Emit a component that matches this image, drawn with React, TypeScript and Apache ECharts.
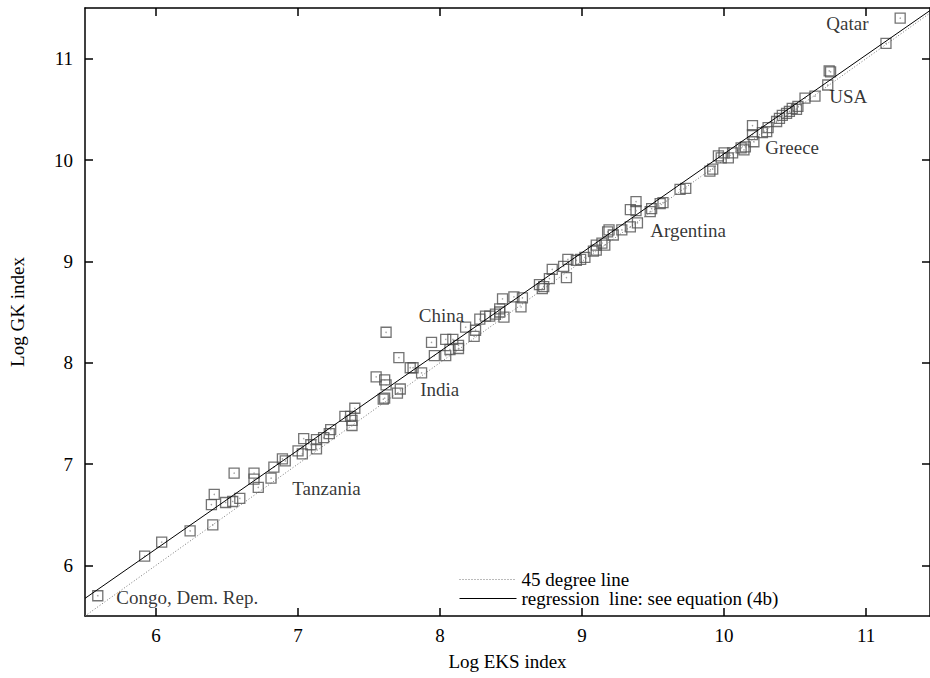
import React, { useEffect, useRef } from "react";
import * as echarts from "echarts";

// Log EKS index (x) and Log GK index (y)
const logEKS = [
  5.59, 5.92, 6.04, 6.24, 6.4, 6.39, 6.41, 6.55, 6.49, 6.54, 6.59, 6.69, 6.69, 6.72, 6.81, 6.83,
  6.89, 6.91, 7.0, 7.03, 7.04, 7.09, 7.13, 7.13, 7.18, 7.22, 7.23, 7.33, 7.37, 7.4, 7.38, 7.38,
  7.6, 7.61, 7.72, 7.7, 7.55, 7.61, 7.62, 7.62, 7.71, 7.79, 7.81, 7.87, 7.94, 7.96, 8.04, 8.04,
  8.09, 8.07, 8.13, 8.13, 8.18, 8.25, 8.24, 8.28, 8.32, 8.35, 8.39, 8.42, 8.42, 8.44, 8.45, 8.52,
  8.57, 8.58, 8.7, 8.72, 8.73, 8.77, 8.79, 8.87, 8.89, 8.9, 8.96, 8.99, 9.02, 9.08, 9.1, 9.1,
  9.14, 9.16, 9.19, 9.18, 9.22, 9.28, 9.34, 9.39, 9.34, 9.38, 9.38, 9.48, 9.49, 9.55, 9.57, 9.69,
  9.73, 9.9, 9.92, 9.96, 9.98, 10.0, 10.03, 10.06, 10.12, 10.14, 10.15, 10.2, 10.2, 10.21, 10.27,
  10.31, 10.3, 10.37, 10.39, 10.41, 10.44, 10.46, 10.48, 10.51, 10.52, 10.57, 10.64, 10.73, 10.74,
  10.75, 11.14, 11.24,
];
const logGK = [
  5.7, 6.09, 6.23, 6.34, 6.4, 6.6, 6.7, 6.91, 6.62, 6.63, 6.66, 6.91, 6.85, 6.77, 6.86, 6.97,
  7.05, 7.03, 7.13, 7.1, 7.25, 7.19, 7.15, 7.24, 7.26, 7.3, 7.34, 7.47, 7.47, 7.55, 7.38, 7.43,
  7.64, 7.65, 7.74, 7.7, 7.86, 7.83, 7.78, 8.3, 8.05, 7.95, 7.95, 7.9, 8.2, 8.07, 8.07, 8.23,
  8.23, 8.13, 8.17, 8.14, 8.35, 8.32, 8.26, 8.43, 8.46, 8.46, 8.48, 8.53, 8.5, 8.63, 8.45, 8.65,
  8.55, 8.64, 8.77, 8.73, 8.75, 8.83, 8.92, 8.95, 8.84, 9.02, 9.01, 9.02, 9.04, 9.1, 9.11, 9.16,
  9.18, 9.16, 9.31, 9.29, 9.26, 9.31, 9.34, 9.38, 9.51, 9.5, 9.59, 9.49, 9.52, 9.57, 9.58, 9.71,
  9.72, 9.89, 9.91, 10.04, 10.02, 10.07, 10.02, 10.07, 10.12, 10.1, 10.13, 10.34, 10.25, 10.18, 10.27,
  10.32, 10.28, 10.38, 10.41, 10.44, 10.46, 10.48, 10.51, 10.5, 10.53, 10.61, 10.63, 10.74, 10.88,
  10.87, 11.15, 11.4,
];

// Country labels (anchor at left edge / vertical centre of the text)
const labelNames = ["Qatar", "USA", "Greece", "Argentina", "China", "India", "Tanzania", "Congo, Dem. Rep."];
const labelX = [10.72, 10.74, 10.29, 9.48, 7.85, 7.86, 6.96, 5.72];
const labelY = [11.35, 10.63, 10.12, 9.3, 8.47, 7.74, 6.76, 5.68];

// Reference lines (end points)
const line45X = [5.5, 11.45];
const line45Y = [5.5, 11.45];
const regX = [5.5, 11.45];
const regY = [5.674, 11.475];

const xTicks = [6, 7, 8, 9, 10, 11];
const yTicks = [6, 7, 8, 9, 10, 11];

const X_MIN = 5.5;
const X_MAX = 11.45;
const Y_MIN = 5.5;
const Y_MAX = 11.5;

const FONT = "'Liberation Serif', 'DejaVu Serif', 'Times New Roman', serif";

export default function App() {
  const ref = useRef<HTMLDivElement>(null);

  useEffect(() => {
    if (!ref.current) return;
    const chart = echarts.init(ref.current, undefined, { renderer: "svg" });

    const pts = logEKS.map((x, i) => [x, logGK[i]]);
    const labels = labelNames.map((n, i) => ({ name: n, value: [labelX[i], labelY[i]] }));

    const axisLine = { show: true, onZero: false, lineStyle: { color: "#000", width: 1.5 } };
    const tickStyle = { color: "#000", width: 1.5 };

    const xBase = (pos: string, withLabel: boolean) => ({
      type: "value",
      min: X_MIN,
      max: X_MAX,
      position: pos,
      axisLine,
      axisTick: { show: true, inside: true, length: 8, customValues: xTicks, lineStyle: tickStyle },
      axisLabel: withLabel
        ? { show: true, customValues: xTicks, fontFamily: FONT, fontSize: 19, color: "#000", margin: 10 }
        : { show: false },
      splitLine: { show: false },
    });
    const yBase = (pos: string, withLabel: boolean) => ({
      type: "value",
      min: Y_MIN,
      max: Y_MAX,
      position: pos,
      axisLine,
      axisTick: { show: true, inside: true, length: 8, customValues: yTicks, lineStyle: tickStyle },
      axisLabel: withLabel
        ? { show: true, customValues: yTicks, fontFamily: FONT, fontSize: 19, color: "#000", margin: 12 }
        : { show: false },
      splitLine: { show: false },
    });

    chart.setOption({
      animation: false,
      backgroundColor: "#fff",
      grid: { left: 83, top: 8, width: 848, height: 608, containLabel: false },
      xAxis: [
        {
          ...xBase("bottom", true),
          name: "Log EKS index",
          nameLocation: "middle",
          nameGap: 36,
          nameTextStyle: { fontFamily: FONT, fontSize: 19, color: "#000" },
        },
        xBase("top", false),
      ],
      yAxis: [
        {
          ...yBase("left", true),
          name: "Log GK index",
          nameLocation: "middle",
          nameGap: 58,
          nameRotate: 90,
          nameTextStyle: { fontFamily: FONT, fontSize: 19, color: "#000" },
        },
        yBase("right", false),
      ],
      legend: {
        data: ["45 degree line", "regression  line: see equation (4b)"],
        orient: "vertical",
        left: 454,
        top: 565,
        itemWidth: 57,
        itemHeight: 14,
        itemGap: 0,
        itemStyle: { opacity: 0 },
        lineStyle: { width: 1 },
        textStyle: { fontFamily: FONT, fontSize: 19, color: "#000" },
        selectedMode: false,
      },
      series: [
        {
          name: "45 degree line",
          type: "line",
          data: line45X.map((x, i) => [x, line45Y[i]]),
          symbol: "none",
          itemStyle: { color: "#777" },
          lineStyle: { color: "#777", width: 1, type: [1, 2] },
          silent: true,
          z: 1,
        },
        {
          name: "regression  line: see equation (4b)",
          type: "line",
          data: regX.map((x, i) => [x, regY[i]]),
          symbol: "none",
          itemStyle: { color: "#000" },
          lineStyle: { color: "#000", width: 1 },
          silent: true,
          z: 3,
        },
        {
          name: "countries",
          type: "scatter",
          data: pts,
          symbol: "rect",
          symbolSize: 10,
          itemStyle: { color: "rgba(0,0,0,0)", borderColor: "#505050", borderWidth: 1.3 },
          silent: true,
          z: 2,
        },
        {
          name: "centres",
          type: "scatter",
          data: pts,
          symbol: "circle",
          symbolSize: 1.5,
          itemStyle: { color: "#888" },
          silent: true,
          z: 2,
        },
        {
          name: "labels",
          type: "scatter",
          data: labels,
          symbolSize: 0,
          label: {
            show: true,
            position: "right",
            distance: 0,
            formatter: "{b}",
            fontFamily: FONT,
            fontSize: 19,
            color: "#000",
          },
          silent: true,
          z: 4,
        },
      ],
    });

    return () => chart.dispose();
  }, []);

  return (
    <div
      ref={ref}
      style={{ position: "fixed", left: 0, top: 0, width: 930, height: 678, background: "#fff" }}
    />
  );
}
